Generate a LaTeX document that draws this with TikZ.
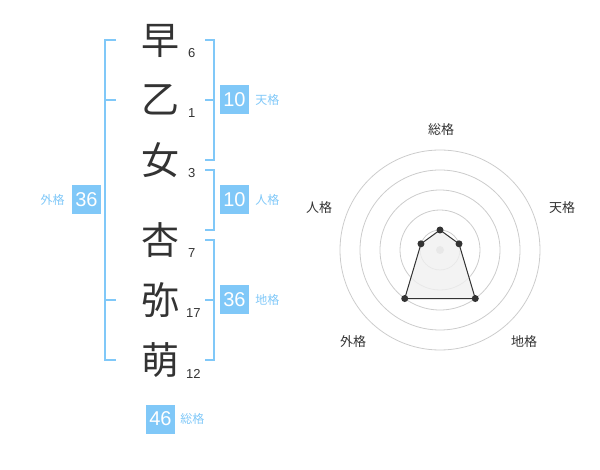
\documentclass[tikz,border=0pt]{standalone}
\usepackage{fontspec}
\setmainfont{Liberation Sans}
\newfontfamily\jpfont{Noto Sans CJK JP}
\usetikzlibrary{positioning}
\definecolor{skyblu}{HTML}{80C8F8}
\definecolor{inkgray}{HTML}{333333}
\definecolor{ringgray}{HTML}{CCCCCC}
\definecolor{fillgray}{HTML}{F0F0F0}

\begin{document}
\begin{tikzpicture}[
    x=1pt, y=-1pt,
    every node/.style={text=inkgray, inner sep=0pt},
  ]

  \useasboundingbox (0,0) rectangle (600,470);

  % Styles
  \tikzset{
    kanji/.style={font=\jpfont\fontsize{38}{38}\selectfont},
    strokes/.style={anchor=base west, font=\fontsize{13}{13}\selectfont},
    scorebox/.style={fill=skyblu, text=white, minimum width=29pt,
                     minimum height=29pt, font=\fontsize{20}{20}\selectfont},
    kaku/.style={text=skyblu, font=\jpfont\fontsize{12}{12}\selectfont},
    brace/.style={draw=skyblu, line width=2pt},
    axislabel/.style={font=\jpfont\fontsize{13}{13}\selectfont},
  }

  % Name characters
  \node[kanji] (k1) at (160,41)  {早};
  \node[kanji] (k2) at (160,100) {乙};
  \node[kanji] (k3) at (160,160) {女};
  \node[kanji] (k4) at (160,240) {杏};
  \node[kanji] (k5) at (160,300) {弥};
  \node[kanji] (k6) at (160,360) {萌};

  % Stroke counts
  \node[strokes] (s1) at (188,58)  {6};
  \node[strokes] (s2) at (188,118) {1};
  \node[strokes] (s3) at (188,178) {3};
  \node[strokes] (s4) at (188,258) {7};
  \node[strokes] (s5) at (186,318) {17};
  \node[strokes] (s6) at (186,378) {12};

  % Brackets
  \draw[brace] (116,40) -- (105,40) -- (105,360) -- (116,360);
  \draw[brace] (105,100) -- (116,100);
  \draw[brace] (105,300) -- (116,300);
  \draw[brace] (205,40) -- (214,40) -- (214,160) -- (205,160);
  \draw[brace] (205,100) -- (214,100);
  \draw[brace] (205,170) -- (214,170) -- (214,230) -- (205,230);
  \draw[brace] (205,240) -- (214,240) -- (214,360) -- (205,360);
  \draw[brace] (205,300) -- (214,300);

  % Scores
  \node[scorebox] (gai) at (86.5,200) {36};
  \node[kaku, left=7pt of gai] {外格};
  \node[scorebox] (ten) at (234.5,100) {10};
  \node[kaku, right=6pt of ten] {天格};
  \node[scorebox] (jin) at (234.5,200) {10};
  \node[kaku, right=6pt of jin] {人格};
  \node[scorebox] (chi) at (234.5,300) {36};
  \node[kaku, right=6pt of chi] {地格};
  \node[scorebox] (sou) at (160.5,419) {46};
  \node[kaku, right=5pt of sou] {総格};

  % Radar chart
  \coordinate (ctr) at (440,250);
  \foreach \r in {20,40,60,80,100}
    \draw[ringgray, line width=0.8pt] (ctr) circle (\r);
  \fill[ringgray] (ctr) circle (4);

  \foreach \a/\r/\n in {-90/20/pSou, -18/20/pTen, 54/60/pChi,
                        126/60/pGai, 198/20/pJin}
    \path (ctr) ++(\a:\r) coordinate (\n);

  \filldraw[fill=fillgray, fill opacity=0.8, draw=inkgray, line width=1pt]
    (pSou) -- (pTen) -- (pChi) -- (pGai) -- (pJin) -- cycle;
  \foreach \n in {pSou,pTen,pChi,pGai,pJin}
    \fill[inkgray] (\n) circle (3.5);

  \node[axislabel] (lSou) at (441,130) {総格};
  \node[axislabel] (lTen) at (562,208) {天格};
  \node[axislabel] (lChi) at (524,342) {地格};
  \node[axislabel] (lGai) at (353,342) {外格};
  \node[axislabel] (lJin) at (319,208) {人格};

\end{tikzpicture}
\end{document}
